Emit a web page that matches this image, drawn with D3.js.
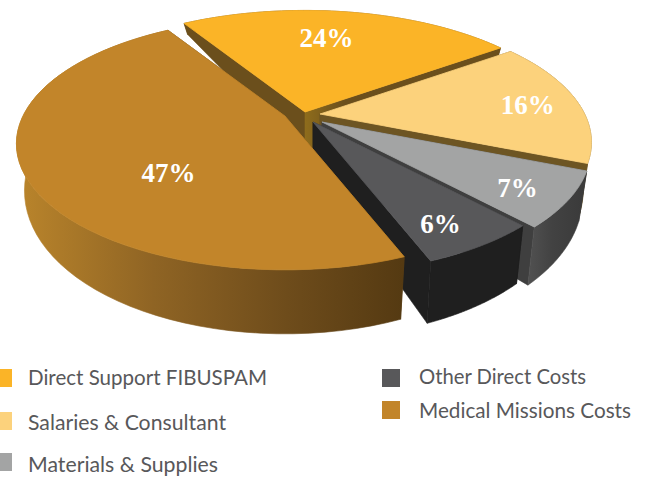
<!DOCTYPE html>
<html><head><meta charset="utf-8">
<script src="https://cdnjs.cloudflare.com/ajax/libs/d3/7.8.5/d3.min.js"></script>
<style>html,body{margin:0;padding:0;background:#fff}svg{display:block}</style>
</head><body><svg id="c" width="646" height="477"></svg>
<script>
const categories=["Direct Support FIBUSPAM","Salaries & Consultant","Materials & Supplies","Other Direct Costs","Medical Missions Costs"];
const values=[24,16,7,6,47];
const topColors=["#fbb427","#fcd27c","#a3a4a4","#58585a","#c2852a"];
const cutStartColors=["#6b4f1c","#6d5523","#3f3f3f","#1f1f1f","#5a3e14"];
const cutEndColors=["url(#yellowCut)","#6d5523","#3f3f3f","#1f1f1f","#5a3e14"];
const wallColors=["#6b4f1c","#6d5523","url(#grayWall)","#1f1f1f","url(#brownWall)"];
const hubs=[[305,112],[320,114],[322,122],[313,122],[285,116]];
const sliceScale=[1.04,1.01,1,.99,1];
const labelRadius=[.74,.72,.72,.72,.47];
const labelShift=[[-11,1],[24,1],[25,12],[12,17],[-1,30]];
const legendX=[0,0,0,382,382], legendY=[369,412,453,369,401], legendBase=[385,430,472,384,418], legendW=[239,198,190,167,212];

const Rx=262, Ry=120, p=.22;
const svg=d3.select("#c");
const defs=svg.append("defs");
function grad(id,x1,x2,stops){
  const g=defs.append("linearGradient").attr("id",id).attr("gradientUnits","userSpaceOnUse")
    .attr("x1",x1).attr("x2",x2).attr("y1",0).attr("y2",0);
  stops.forEach(s=>g.append("stop").attr("offset",s[0]).attr("stop-color",s[1]));
}
grad("brownWall",20,402,[[0,"#b9842b"],[.35,"#8f6424"],[.7,"#6e4c1b"],[1,"#553a12"]]);
grad("grayWall",520,585,[[0,"#565656"],[.5,"#424242"],[1,"#3a3a3a"]]);
grad("yellowCut",305,345,[[0,"#8e6c1c"],[1,"#6b4f1c"]]);

const arcs=d3.pie().sort(null).startAngle(-32*Math.PI/180).endAngle(328*Math.PI/180)(values);
function proj(a,r,h){
  const X=Math.sin(a)*r, Y=-Math.cos(a)*r, s=1/(1-p*Y);
  return [h[0]+Rx*X*s, h[1]+Ry*Y*s, Y];
}
const wallH=Y=>Y<0?42+35*Y:42+22*Y;
function low(pt,h){return [h[0]+(pt[0]-h[0])*.97, pt[1]+wallH(pt[2])];}
const line=d3.line();
function arcPts(d,h,r){
  const n=60;
  return d3.range(n+1).map(i=>proj(d.startAngle+(d.endAngle-d.startAngle)*i/n,r,h));
}
[0,1,2,3,4].forEach(i=>{
  const d=arcs[i],h=hubs[i],pts=arcPts(d,h,sliceScale[i]);
  const hubB=[h[0],h[1]+wallH(0)];
  const sl=svg.append("g");
  const a=pts[0],b=pts[pts.length-1];
  sl.append("path").attr("d",line([h,a,low(a,h),hubB])+"Z").attr("fill",cutStartColors[i]).attr("stroke",cutStartColors[i]).attr("stroke-width",.6);
  sl.append("path").attr("d",line([h,b,low(b,h),hubB])+"Z").attr("fill",cutEndColors[i]).attr("stroke",cutEndColors[i]).attr("stroke-width",.6);
  const wall=pts.map(q=>[q[0],q[1]]).concat(pts.slice().reverse().map(q=>low(q,h)));
  sl.append("path").attr("d",line(wall)+"Z").attr("fill",wallColors[i]).attr("stroke",wallColors[i]).attr("stroke-width",.6);
  sl.append("path").attr("d",line([h].concat(pts.map(q=>[q[0],q[1]])))+"Z").attr("fill",topColors[i]).attr("stroke",topColors[i]).attr("stroke-width",.8);
});
arcs.forEach((d,i)=>{
  const q=proj((d.startAngle+d.endAngle)/2,labelRadius[i],hubs[i]);
  svg.append("text").attr("x",q[0]+labelShift[i][0]).attr("y",q[1]+labelShift[i][1]).attr("dy",".35em").attr("text-anchor","middle")
    .attr("font-family","Liberation Serif").attr("font-weight","bold").attr("font-size",27).attr("fill","#fff")
    .text(values[i]+"%");
});
categories.forEach((c,i)=>{
  const x=legendX[i];
  svg.append("rect").attr("x",x).attr("y",legendY[i]).attr("width",i<3?12:18).attr("height",18).attr("fill",topColors[i]);
  svg.append("text").attr("x",i<3?28:419).attr("y",legendBase[i]).attr("font-family","Lato").attr("font-size",22)
    .attr("fill","#58585a").attr("textLength",legendW[i]).attr("lengthAdjust","spacingAndGlyphs").text(c);
});
</script></body></html>
